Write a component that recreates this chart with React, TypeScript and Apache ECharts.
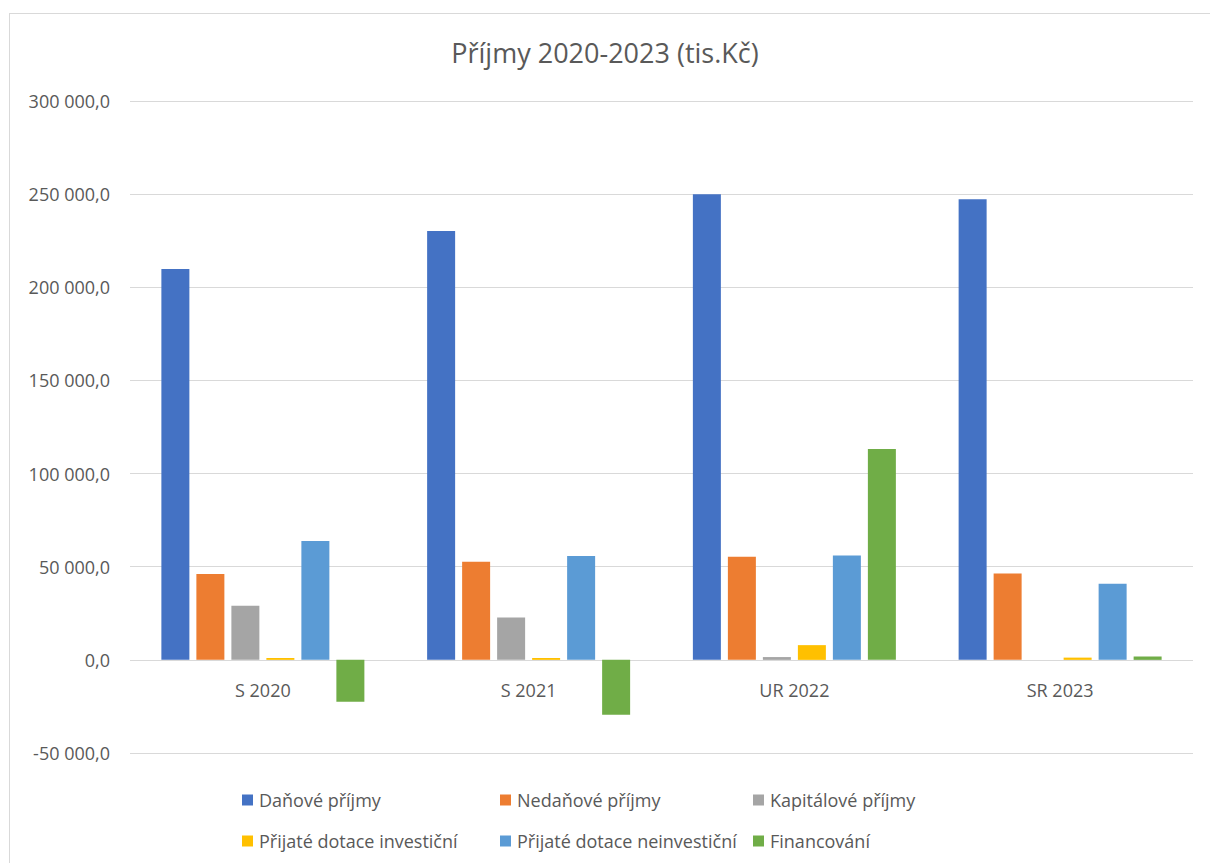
import React, { useEffect, useRef } from "react";
import * as echarts from "echarts";

const categories = ["S 2020", "S 2021", "UR 2022", "SR 2023"];
const seriesNames = [
  "Daňové příjmy",
  "Nedaňové příjmy",
  "Kapitálové příjmy",
  "Přijaté dotace investiční",
  "Přijaté dotace neinvestiční",
  "Financování",
];
const danove = [209800, 230200, 250000, 247300];
const nedanove = [46100, 52600, 55400, 46300];
const kapitalove = [29000, 22700, 1500, 0];
const dotaceInv = [1000, 1000, 7900, 1200];
const dotaceNeinv = [63800, 55800, 56000, 40800];
const financovani = [-22500, -29500, 113200, 1800];
const colors = ["#4472C4", "#ED7D31", "#A5A5A5", "#FFC000", "#5B9BD5", "#70AD47"];
const yTicks = { min: -50000, max: 300000, interval: 50000 };

const allValues = [danove, nedanove, kapitalove, dotaceInv, dotaceNeinv, financovani];

function fmt(v: number) {
  const neg = v < 0;
  const s = Math.abs(v).toFixed(0).replace(/\B(?=(\d{3})+(?!\d))/g, " ");
  return (neg ? "-" : "") + s + ",0";
}

const FONT = "'Open Sans', 'Noto Sans', sans-serif";

export default function App() {
  const ref = useRef<HTMLDivElement>(null);
  useEffect(() => {
    if (!ref.current) return;
    const chart = echarts.init(ref.current, undefined, { renderer: "svg" });
    const legendPos = [
      [237, 786],
      [495, 786],
      [748, 786],
      [237, 827],
      [495, 827],
      [748, 827],
    ];
    chart.setOption({
      animation: false,
      title: {
        text: "Příjmy 2020-2023 (tis.Kč)",
        left: 600,
        textAlign: "center",
        top: 34,
        textStyle: { fontFamily: FONT, fontSize: 27, fontWeight: "normal", color: "#595959" },
      },
      legend: seriesNames.map((n, i) => ({
        data: [n],
        left: legendPos[i][0],
        top: legendPos[i][1],
        itemWidth: 11,
        itemHeight: 11,
        itemGap: 4,
        icon: "rect",
        textStyle: { fontFamily: FONT, fontSize: 18, color: "#595959", padding: [0, 0, 0, 1] },
      })),
      grid: { left: 130, right: 17, top: 101, bottom: 110, containLabel: false },
      xAxis: {
        type: "category",
        data: categories,
        axisLine: { show: false },
        axisTick: { show: false },
        axisLabel: { fontFamily: FONT, fontSize: 18, color: "#595959", margin: -72 },
      },
      yAxis: {
        type: "value",
        min: yTicks.min,
        max: yTicks.max,
        interval: yTicks.interval,
        axisLine: { show: false },
        axisTick: { show: false },
        splitLine: { lineStyle: { color: "#D9D9D9", width: 1 } },
        axisLabel: {
          fontFamily: FONT,
          fontSize: 18,
          color: "#595959",
          margin: 20,
          formatter: (v: number) => fmt(v),
        },
      },
      series: seriesNames.map((n, i) => ({
        name: n,
        type: "bar",
        data: allValues[i],
        barWidth: 28,
        barGap: "25%",
        itemStyle: { color: colors[i] },
      })),
    });
    return () => chart.dispose();
  }, []);
  return (
    <div style={{ position: "fixed", left: 0, top: 0, width: 1210, height: 863, background: "#fff" }}>
      <div
        style={{
          position: "absolute",
          left: 9,
          top: 13,
          width: 1210,
          height: 870,
          border: "1px solid #D9D9D9",
          boxSizing: "border-box",
        }}
      />
      <div ref={ref} style={{ position: "absolute", left: 0, top: 0, width: 1210, height: 863 }} />
    </div>
  );
}
